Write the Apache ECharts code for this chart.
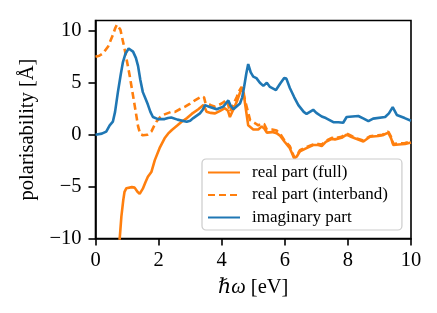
<!DOCTYPE html>
<html>
<head>
<meta charset="utf-8">
<script src="https://cdn.jsdelivr.net/npm/echarts@6/dist/echarts.min.js"></script>
<style>html,body{margin:0;padding:0;background:#fff}#c{width:437px;height:313px}</style>
</head>
<body>
<div id="c"></div>
<script>
const seriesNames = ['real part (full)', 'real part (interband)', 'imaginary part'];
const xTicks = [0, 2, 4, 6, 8, 10];
const yTicks = [-10, -5, 0, 5, 10];

const realFull = [[0.74,-11],[0.78,-9.5],[0.82,-7.9],[0.88,-6.3],[0.92,-5.5],[0.98,-5.15],[1.03,-5.07],[1.15,-5.05],[1.24,-5.1],[1.33,-5.5],[1.4,-5.7],[1.5,-5.2],[1.58,-4.6],[1.66,-4.05],[1.77,-3.6],[1.88,-2.45],[2.03,-1.3],[2.19,-0.35],[2.3,0.1],[2.42,0.45],[2.6,0.9],[2.73,1.25],[2.9,1.6],[3.05,2.0],[3.26,2.45],[3.42,2.85],[3.48,2.5],[3.52,2.2],[3.65,2.1],[3.79,2.05],[3.95,2.3],[4.1,2.55],[4.2,2.3],[4.26,1.7],[4.35,2.3],[4.48,3.2],[4.55,3.8],[4.63,4.5],[4.7,4.0],[4.74,3.0],[4.84,0.9],[4.9,0.8],[5.0,0.5],[5.16,0.5],[5.27,0.8],[5.35,0.6],[5.43,0.2],[5.6,0.25],[5.74,0.15],[5.85,-0.1],[6.0,-0.7],[6.16,-1.3],[6.3,-2.3],[6.38,-2.1],[6.48,-1.6],[6.69,-1.3],[6.9,-1.0],[7.06,-1.0],[7.17,-1.1],[7.3,-0.7],[7.49,-0.4],[7.59,-0.45],[7.8,-0.3],[7.96,0.0],[8.1,-0.2],[8.22,-0.35],[8.49,-0.65],[8.7,-0.2],[8.96,-0.13],[9.1,-0.05],[9.28,0.2],[9.37,-0.35],[9.44,-1.0],[9.6,-0.95],[9.81,-0.9],[10,-0.75]];

const realInterband = [[0,7.5],[0.12,7.6],[0.24,7.85],[0.4,8.5],[0.55,9.6],[0.63,10.3],[0.68,10.6],[0.73,10.5],[0.79,10.1],[0.92,8.3],[1.08,5.75],[1.24,2.85],[1.35,0.8],[1.42,0.05],[1.5,-0.05],[1.65,0.0],[1.77,0.3],[1.85,0.8],[1.93,1.25],[2.05,1.7],[2.14,1.9],[2.4,2.2],[2.52,2.2],[2.7,2.5],[2.84,2.7],[3.0,3.0],[3.15,3.3],[3.37,3.7],[3.44,3.6],[3.49,3.0],[3.65,2.85],[3.79,2.7],[4.0,3.0],[4.16,3.35],[4.22,2.7],[4.26,2.2],[4.35,2.8],[4.48,3.65],[4.57,4.3],[4.63,4.6],[4.7,3.8],[4.79,2.7],[4.9,1.4],[4.95,1.4],[5.06,1.1],[5.16,0.9],[5.27,1.1],[5.35,1.0],[5.43,0.5],[5.6,0.5],[5.74,0.4],[5.85,0.1],[6.0,-0.6],[6.16,-1.1],[6.3,-2.2],[6.38,-2.0],[6.48,-1.5],[6.69,-1.2],[6.9,-0.95],[7.06,-0.9],[7.17,-0.95],[7.3,-0.6],[7.49,-0.3],[7.59,-0.35],[7.8,-0.2],[7.96,0.1],[8.1,-0.1],[8.22,-0.3],[8.49,-0.55],[8.7,-0.15],[8.96,-0.05],[9.1,0.0],[9.28,0.3],[9.37,-0.2],[9.44,-0.9],[9.6,-0.85],[9.81,-0.8],[10,-0.65]];

const imagPart = [[0,0],[0.2,0.1],[0.34,0.3],[0.45,0.9],[0.55,1.25],[0.62,2.2],[0.71,4.1],[0.8,5.8],[0.87,7.0],[0.95,7.8],[1.05,8.3],[1.1,8.25],[1.19,8.0],[1.28,7.4],[1.35,6.6],[1.42,5.3],[1.5,4.1],[1.58,3.5],[1.66,2.9],[1.74,2.2],[1.82,1.7],[1.98,1.5],[2.19,1.5],[2.3,1.6],[2.4,1.65],[2.6,1.45],[2.89,1.25],[3.0,1.35],[3.1,1.6],[3.31,2.05],[3.4,2.4],[3.47,2.85],[3.6,2.7],[3.84,2.45],[4.05,2.7],[4.21,3.3],[4.28,2.8],[4.37,2.45],[4.58,3.0],[4.65,3.6],[4.71,4.6],[4.78,5.9],[4.84,6.8],[4.92,6.0],[5.0,5.6],[5.1,5.45],[5.21,5.0],[5.32,4.7],[5.43,5.0],[5.53,4.6],[5.72,4.3],[5.85,4.9],[5.98,5.45],[6.05,5.4],[6.16,4.5],[6.3,3.6],[6.43,2.85],[6.6,2.2],[6.69,2.0],[6.9,2.4],[7.0,2.1],[7.17,1.75],[7.3,1.6],[7.54,1.2],[7.7,1.2],[7.85,1.15],[7.96,1.7],[8.33,1.8],[8.5,1.55],[8.65,1.3],[8.8,1.55],[9.18,1.7],[9.3,2.05],[9.42,2.65],[9.55,1.9],[9.8,1.6],[10,1.35]];

const FONT = '"Liberation Serif", "DejaVu Serif", serif';
const fmt = v => (v < 0 ? '\u2212' + Math.abs(v) : String(v));

const chart = echarts.init(document.getElementById('c'), null, {renderer: 'canvas'});
chart.setOption({
  animation: false,
  backgroundColor: '#fff',
  grid: {left: 95.5, right: 26, top: 20.5, bottom: 74.5, show: true, borderColor: '#000', borderWidth: 1.6, backgroundColor: 'transparent'},
  xAxis: {
    type: 'value', min: 0, max: 10, interval: 2,
    splitLine: {show: false},
    axisLine: {show: true, onZero: false, lineStyle: {color: '#000', width: 1.6}},
    axisTick: {show: true, inside: false, length: 7, lineStyle: {color: '#000', width: 1.6}, customValues: xTicks},
    axisLabel: {color: '#000', fontFamily: FONT, fontSize: 20.5, margin: 12, customValues: xTicks, formatter: fmt},
    name: '{i|\u210F\u03C9} [eV]', nameLocation: 'middle', nameGap: 39,
    nameTextStyle: {color: '#000', fontFamily: FONT, fontSize: 20.5, rich: {i: {fontStyle: 'italic', fontFamily: FONT, fontSize: 20.5, color: '#000'}}}
  },
  yAxis: {
    type: 'value', min: -10, max: 11, interval: 5,
    splitLine: {show: false},
    axisLine: {show: true, onZero: false, lineStyle: {color: '#000', width: 1.6}},
    axisTick: {show: true, inside: false, length: 7, lineStyle: {color: '#000', width: 1.6}, customValues: yTicks},
    axisLabel: {color: '#000', fontFamily: FONT, fontSize: 20.5, margin: 14, customValues: yTicks, formatter: fmt},
    name: 'polarisability [\u00C5]', nameLocation: 'middle', nameGap: 56, nameRotate: 90,
    nameTextStyle: {color: '#000', fontFamily: FONT, fontSize: 20.5}
  },
  legend: {
    orient: 'vertical', left: 202, top: 159,
    padding: [5, 14, 4, 5], itemGap: 5.5, itemWidth: 32, itemHeight: 14,
    backgroundColor: 'rgba(255,255,255,0.85)', borderColor: '#cccccc', borderWidth: 1.2, borderRadius: 4,
    itemStyle: {opacity: 0},
    textStyle: {color: '#000', fontFamily: FONT, fontSize: 17, padding: [0, 0, 0, 7], lineHeight: 17},
    data: seriesNames
  },
  series: [
    {name: seriesNames[0], type: 'line', data: realFull, showSymbol: false, symbol: 'none', clip: true, z: 3,
     lineStyle: {color: '#ff7f0e', width: 2.6}, itemStyle: {color: '#ff7f0e'}},
    {name: seriesNames[1], type: 'line', data: realInterband, showSymbol: false, symbol: 'none', clip: true, z: 2,
     lineStyle: {color: '#ff7f0e', width: 2.6, type: [7, 4]}, itemStyle: {color: '#ff7f0e'}},
    {name: seriesNames[2], type: 'line', data: imagPart, showSymbol: false, symbol: 'none', clip: true, z: 4,
     lineStyle: {color: '#1f77b4', width: 2.6}, itemStyle: {color: '#1f77b4'}}
  ]
});
</script>
</body>
</html>
